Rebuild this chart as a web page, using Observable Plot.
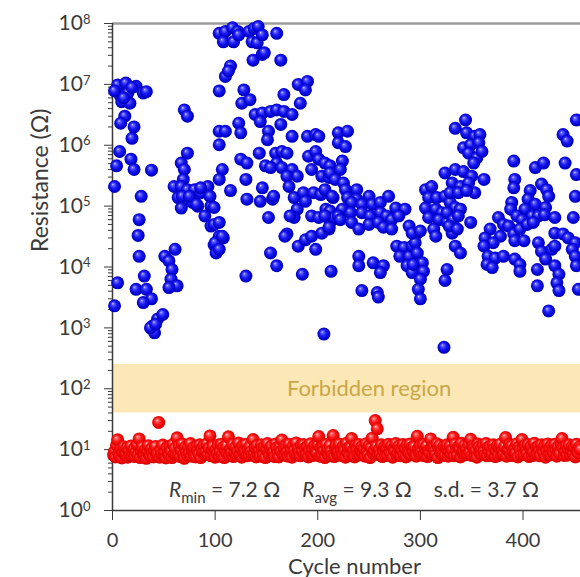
<!DOCTYPE html>
<html><head><meta charset="utf-8">
<script src="https://cdn.jsdelivr.net/npm/d3@7"></script>
<script src="https://cdn.jsdelivr.net/npm/@observablehq/plot@0.6"></script>
<style>html,body{margin:0;padding:0;background:#fff}svg{display:block}</style>
</head><body><div id="chart"></div>
<script>
// ---------- data ----------
// Blue: high-resistance state, [cycle] and [resistance in ohm], same order
const blueCycle = [
  5,13,23,30,7,15,9,17,2,33,
  19,11,12,8,21,19,7,4,18,21,
  38,2,28,26,25,26,5,2,31,23,
  33,38,30,39,44,49,41,37,42,51,
  61,55,58,57,63,55,70,73,73,67,
  70,69,60,67,73,80,86,93,64,70,
  78,83,67,90,96,96,99,101,104,68,
  75,82,86,95,99,99,100,108,
  104,110,117,122,108,118,123,133,138,142,
  136,141,146,160,115,110,113,137,146,148,
  164,104,128,126,134,167,181,190,188,183,
  139,146,154,160,167,175,144,152,151,164,
  123,125,104,110,104,175,190,198,201,143,
  125,131,159,165,170,160,149,154,165,175,
  180,170,172,191,198,201,194,207,204,212,
  211,
  107,104,115,130,131,146,144,156,152,177,
  180,177,186,196,203,194,201,208,212,188,
  157,170,173,215,212,216,104,107,104,168,
  181,188,194,198,204,211,154,160,130,185,
  213,206,
  220,229,220,227,224,212,222,217,225,207,
  227,238,214,229,238,250,233,243,253,261,
  269,276,285,224,207,220,232,243,251,261,
  267,272,211,222,233,240,250,259,264,272,
  289,297,279,277,284,280,289,292,295,297,
  287,292,302,303,300,298,300,293,240,240,
  254,264,261,243,258,259,323,292,300,310,
  305,311,324,308,316,324,305,315,321,308,
  318,313,315,329,331,326,331,326,324,334,
  344,345,353,358,342,349,357,347,355,360,
  352,334,342,350,362,331,339,347,353,329,
  337,345,334,339,326,332,337,328,336,334,
  339,349,
  391,392,391,412,420,389,388,407,405,418,
  423,425,412,422,402,394,399,409,415,421,
  431,376,381,368,378,363,371,362,386,391,
  397,404,410,392,401,366,373,365,370,381,
  392,397,397,415,418,422,428,414,431,435,
  414,433,435,425,439,443,441,452,452,451,
  449,431,439,444,451,448,451,452,454,431
];
const blueR = [
  9.8e6,1.05e7,9.3e6,7.2e6,6.8e6,7.2e6,5.2e6,4.9e6,7.8e6,7.6e6,
  8.9e6,6.0e6,3.0e6,2.3e6,2.0e6,1.3e6,7.9e5,4.6e5,5.9e5,4.0e5,
  3.9e5,2.1e5,1.45e5,6.0e4,3.3e4,1.5e4,5.5e3,2.3e3,7.1e3,4.3e3,
  4.3e3,3.0e3,2.6e3,1.07e3,1.4e3,1.66e3,8.3e2,1.0e3,1.15e3,1.5e4,
  1.95e4,1.26e4,9.1e3,6.3e3,4.9e3,4.6e3,3.8e6,3.0e6,7.4e5,5.1e5,
  4.0e5,2.75e5,2.1e5,2.1e5,1.86e5,1.86e5,1.66e5,2.1e5,1.38e5,1.2e5,
  1.15e5,1.0e5,9.3e4,6.9e4,1.0e5,4.7e4,2.3e4,1.7e4,3.2e4,1.45e5,
  1.45e5,1.07e5,2.0e5,1.45e5,9.5e4,5.0e4,2.5e4,3.0e4,
  6.9e7,7.4e7,8.5e7,7.4e7,5.0e7,5.0e7,6.5e7,7.4e7,8.3e7,8.9e7,
  5.0e7,4.8e7,6.5e7,6.9e7,2.0e7,1.35e7,1.66e7,2.5e7,3.1e7,3.3e7,
  2.5e7,7.8e6,8.1e6,4.9e6,5.6e6,6.8e6,1.0e7,1.12e7,8.1e6,4.9e6,
  3.2e6,3.4e6,3.6e6,3.8e6,3.6e6,3.2e6,2.45e6,1.7e6,1.23e6,2.2e6,
  2.3e6,1.6e6,1.7e6,1.7e6,1.02e6,1.4e6,1.4e6,1.5e6,1.4e6,7.4e5,
  5.9e5,5.1e5,7.4e5,7.9e5,7.4e5,5.1e5,4.6e5,4.3e5,4.3e5,4.0e5,
  3.1e5,3.1e5,2.1e5,6.6e5,7.9e5,5.9e5,4.0e5,5.1e5,3.1e5,4.6e5,
  2.95e5,
  4.0e5,2.75e5,1.8e5,2.75e5,1.3e5,2.0e5,1.2e5,1.3e5,6.5e4,1.38e5,
  8.9e4,6.5e4,1.66e5,1.66e5,1.55e5,6.9e4,6.5e4,8.9e4,5.4e4,1.2e5,
  1.45e5,3.5e4,6.9e4,1.38e5,8.3e4,6.5e4,5.4e4,3.2e4,1.95e4,3.2e4,
  2.2e4,2.8e4,3.2e4,1.95e4,3.6e4,4.2e4,1.7e4,1.05e4,7.1e3,7.6e3,
  8.5e3,7.9e2,
  1.6e6,1.7e6,1.1e6,9.5e5,5.5e5,3.5e5,4.0e5,2.75e5,2.4e5,1.86e5,
  1.86e5,1.86e5,1.45e5,1.38e5,1.3e5,1.45e5,1.15e5,1.07e5,1.07e5,1.15e5,
  1.45e5,9.3e4,8.9e4,8.9e4,6.9e4,6.9e4,7.8e4,7.8e4,6.9e4,7.8e4,
  6.9e4,6.0e4,4.5e4,6.0e4,5.4e4,4.2e4,5.0e4,5.4e4,4.5e4,4.2e4,
  4.7e4,3.6e4,6.9e4,2.2e4,2.1e4,1.5e4,1.5e4,2.2e4,2.5e4,1.7e4,
  1.05e4,8.1e3,1.17e4,8.5e3,6.3e3,4.3e3,3.0e3,1.1e4,1.5e4,1.05e4,
  1.17e4,1.05e4,8.1e3,4.1e3,3.8e3,3.2e3,4.8e2,3.6e4,3.9e4,1.55e5,
  1.86e5,2.1e5,3.5e5,1.38e5,1.38e5,1.45e5,9.3e4,8.9e4,7.8e4,6.5e4,
  6.0e4,4.2e4,3.2e4,1.15e5,6.9e4,5.4e4,3.6e4,9.1e3,6.0e3,1.9e6,
  2.6e6,1.6e6,1.4e6,1.5e6,9.1e5,1.02e6,1.1e6,7.4e5,6.2e5,7.9e5,
  5.1e5,4.0e5,3.7e5,3.1e5,2.75e5,2.4e5,2.1e5,2.4e5,1.66e5,1.66e5,
  1.66e5,1.8e5,9.5e4,8.9e4,7.8e4,6.0e4,6.9e4,4.7e4,4.2e4,2.2e4,
  1.7e4,5.4e4,
  5.5e5,2.75e5,2.0e5,4.3e5,5.1e5,1.15e5,8.9e4,1.8e5,1.3e5,2.3e5,
  1.86e5,1.45e5,1.07e5,9.5e4,8.9e4,6.9e4,6.0e4,6.9e4,6.9e4,7.2e4,
  6.5e4,6.5e4,5.0e4,4.2e4,3.2e4,3.0e4,2.5e4,2.2e4,4.7e4,3.5e4,
  4.2e4,5.0e4,5.4e4,2.7e4,2.7e4,1.5e4,1.4e4,1.1e4,9.8e3,1.5e4,
  1.35e4,1.1e4,8.5e3,2.5e4,1.8e4,1.35e4,1.95e4,9.1e3,1.05e4,7.6e3,
  4.9e3,5.5e3,4.1e3,1.9e3,1.5e6,1.17e6,5.1e5,2.6e6,3.3e5,1.45e5,
  6.5e4,3.6e4,3.5e4,3.0e4,2.5e4,1.95e4,1.5e4,1.05e4,4.3e3,2.2e4
];
// Red: low-resistance state, one value per cycle (cycle 1, 2, 3, ...)
const redR = [
  8.2,9.4,7.6,11.8,14.5,8.6,7.8,10.2,7.3,9.1,11.2,8.2,8.4,10.6,7.5,9.7,8.0,11.5,8.0,8.9,
  10.3,7.7,9.2,12.1,8.2,15.0,7.4,9.6,11.0,8.1,8.5,10.0,7.2,9.3,11.6,8.1,7.9,10.4,8.8,7.6,
  9.9,11.3,8.0,8.7,28.0,7.5,10.1,8.3,11.9,7.8,9.0,7.3,10.8,8.6,8.2,11.4,9.5,7.4,12.2,8.4,
  10.5,8.1,15.6,8.0,11.7,7.7,9.8,12.4,8.2,7.2,10.9,9.1,8.0,11.1,8.7,12.6,7.8,9.4,10.7,8.1,
  7.6,11.2,9.6,8.5,12.0,7.4,10.3,8.8,11.8,8.3,9.2,12.5,8.3,10.6,16.8,7.9,9.9,11.4,8.0,7.5,
  10.0,8.6,11.9,7.8,9.3,12.3,8.1,10.8,7.4,9.7,11.5,8.4,16.2,8.1,10.2,9.0,12.1,7.7,8.9,11.0,
  8.0,9.5,12.8,8.2,10.4,7.5,11.6,8.7,9.8,12.2,7.9,10.1,8.0,11.3,9.2,8.2,14.6,8.5,10.9,7.6,
  11.7,8.3,9.6,7.8,12.0,10.5,8.1,11.2,7.4,9.9,12.6,8.8,8.0,10.3,11.4,8.0,9.1,7.7,12.4,10.7,
  8.5,7.6,11.1,9.4,14.4,8.2,10.8,8.1,11.9,9.0,7.8,12.3,8.6,10.0,7.5,11.5,9.7,8.3,12.9,8.2,
  10.4,8.9,7.9,11.8,9.3,12.1,8.3,10.6,8.4,11.2,7.6,9.8,12.5,8.1,10.2,8.0,11.6,9.1,8.7,12.0,
  16.4,7.8,10.9,8.2,11.3,9.6,7.4,12.2,8.8,10.1,8.1,11.7,9.4,8.0,17.0,7.7,10.5,11.9,8.5,9.2,
  12.4,8.0,10.0,8.3,11.4,9.7,7.5,12.7,8.9,10.6,7.9,11.0,15.2,8.4,9.9,7.6,11.8,10.3,8.1,12.1,
  8.2,9.5,11.2,8.6,10.4,7.8,12.5,9.1,8.2,11.6,7.4,10.7,15.4,8.7,9.8,30.0,11.3,22.0,8.3,10.0,
  8.4,12.0,7.7,9.6,11.1,8.0,10.8,8.0,12.3,9.2,8.5,11.7,7.5,10.2,9.4,12.6,8.1,8.9,11.4,10.0,
  7.9,9.8,12.1,8.3,10.5,7.6,11.9,9.0,8.6,12.4,8.2,10.9,9.3,11.2,8.1,7.8,16.6,10.4,8.7,11.6,
  9.1,8.0,12.2,8.4,10.1,11.5,7.7,9.7,8.8,15.0,10.6,8.3,11.0,9.4,8.2,12.5,7.4,10.3,11.8,8.5,
  9.9,8.1,11.3,8.0,10.7,12.0,7.8,9.2,11.6,8.6,10.0,15.9,7.9,12.3,9.6,8.1,11.1,10.4,7.6,12.7,
  8.9,9.5,11.7,8.2,10.2,8.4,12.1,9.0,14.8,8.0,11.4,10.5,8.3,9.8,7.5,12.4,11.0,8.7,10.1,8.3,
  11.9,9.3,8.2,12.6,7.9,10.8,9.1,11.2,8.1,8.6,12.0,10.3,7.7,9.6,11.5,8.0,10.9,12.3,8.2,9.4,
  8.5,11.1,15.8,7.8,10.0,9.7,12.2,8.1,11.6,8.0,9.2,10.6,8.8,12.5,7.6,11.0,9.9,8.3,14.6,10.4,
  8.3,11.8,9.5,8.6,12.1,7.7,10.3,11.4,8.0,9.1,12.7,8.1,10.8,8.4,11.2,9.6,7.9,12.0,10.1,8.9,
  11.5,7.5,9.8,12.4,8.2,10.5,8.2,11.9,9.3,8.7,12.2,10.0,7.8,11.1,9.0,8.5,12.6,15.2,10.7,8.0,
  9.4,11.6,8.1,10.2,12.0,8.3,9.7,11.3,8.4,10.9,7.6,12.3,9.2,8.8,11.0,10.1
];
const xTicks = [0, 100, 200, 300, 400];
const yTicks = [1, 10, 100, 1e3, 1e4, 1e5, 1e6, 1e7, 1e8];
const forbidden = [{lo: 40, hi: 250, label: "Forbidden region"}];
const statItems = [
  {sym: "R", sub: "min", text: " = 7.2 Ω"},
  {sym: "R", sub: "avg", text: " = 9.3 Ω"},
  {sym: "", sub: "", text: "s.d. = 3.7 Ω"}
];
const xLabel = "Cycle number";
const yLabel = "Resistance (Ω)";

// ---------- build ----------
const blue = blueCycle.map((c, i) => ({c, r: blueR[i]}));
const red = redR.map((r, i) => ({c: i + 1, r}));
const minorTicks = [];
for (let e = 0; e < 8; e++) for (let m = 2; m < 10; m++) minorTicks.push(m * Math.pow(10, e));

const FONT = "Lato, 'Open Sans', sans-serif";
const INK = "#3a3a3a";

const chart = Plot.plot({
  width: 580, height: 577,
  marginLeft: 112, marginRight: 0, marginTop: 23, marginBottom: 67,
  style: {fontFamily: FONT, fontSize: "20px", color: INK, background: "#fff", overflow: "visible"},
  x: {domain: [0, 456]},
  y: {type: "log", domain: [1, 1e8]},
  marks: [
    Plot.rect(forbidden, {y1: "lo", y2: "hi", fill: "#fbe8b6"}),
    Plot.text(forbidden, {x: 250, y: d => Math.sqrt(d.lo * d.hi), text: "label", fill: "#c9a746", fontSize: 22}),
    Plot.ruleY([1e8], {stroke: "#9c9c9c", strokeWidth: 2.5}),
    Plot.axisY(minorTicks, {tickSize: 4, fill: "none", stroke: INK, label: null}),
    Plot.axisY(yTicks, {tickSize: 8, tickPadding: 14, stroke: INK, fill: INK, fontSize: 21,
      tickFormat: d => String(Math.round(Math.log10(d))), label: null}),
    Plot.axisX(xTicks, {tickSize: 10, tickPadding: 12, stroke: INK, fill: INK, fontSize: 20, label: null}),
    Plot.ruleX([0], {stroke: INK, strokeWidth: 1.5}),
    Plot.ruleY([1], {stroke: INK, strokeWidth: 1.5}),
    Plot.dot(red, {x: "c", y: "r", r: 6.5, fill: "url(#ballRed)", stroke: "none"}),
    Plot.dot(blue, {x: "c", y: "r", r: 6.5, fill: "url(#ballBlue)", stroke: "none"}),
    Plot.text([yLabel], {frameAnchor: "left", rotate: -90, dx: -72, dy: -15, fontSize: 23, fill: INK}),
    Plot.text([xLabel], {frameAnchor: "bottom", lineAnchor: "middle", dx: 8, dy: 56, fontSize: 22, fill: INK})
  ]
});

const svg = d3.select(chart);
const defs = svg.insert("defs", ":first-child");
function ball(id, stops) {
  const g = defs.append("radialGradient").attr("id", id)
    .attr("cx", "50%").attr("cy", "50%").attr("r", "55%").attr("fx", "36%").attr("fy", "32%");
  stops.forEach(([o, c]) => g.append("stop").attr("offset", o).attr("stop-color", c));
}
ball("ballBlue", [["0%", "#d6d6ff"], ["15%", "#6a6aff"], ["45%", "#1c1cf4"], ["80%", "#0000cc"], ["92%", "#0000b0"], ["100%", "#6f6fe8"]]);
ball("ballRed", [["0%", "#ffd0d0"], ["15%", "#ff7070"], ["45%", "#ff1a1a"], ["80%", "#e60000"], ["92%", "#d40000"], ["100%", "#f27070"]]);

// superscript exponents on the y tick labels (10^k)
svg.selectAll('g[aria-label="y-axis tick label"] text').each(function() {
  const k = this.textContent;
  if (!k) return;
  const t = d3.select(this);
  t.text(null);
  t.append("tspan").text("10");
  t.append("tspan").attr("dy", "-0.5em").attr("font-size", "0.62em").text(k);
});

// statistics line
const st = svg.append("text").attr("x", 354).attr("y", 497).attr("text-anchor", "middle")
  .attr("font-family", FONT).attr("font-size", 21).attr("fill", INK).style("white-space", "pre");
statItems.forEach((s, i) => {
  const first = st.append("tspan").attr("dx", i ? 22 : 0);
  if (s.sym) {
    first.attr("font-style", "italic").text(s.sym);
    st.append("tspan").attr("dy", 6).attr("font-size", 15).text(s.sub);
    st.append("tspan").attr("dy", -6).text(s.text);
  } else {
    first.text(s.text);
  }
});

document.getElementById("chart").appendChild(chart);
</script>
</body></html>
